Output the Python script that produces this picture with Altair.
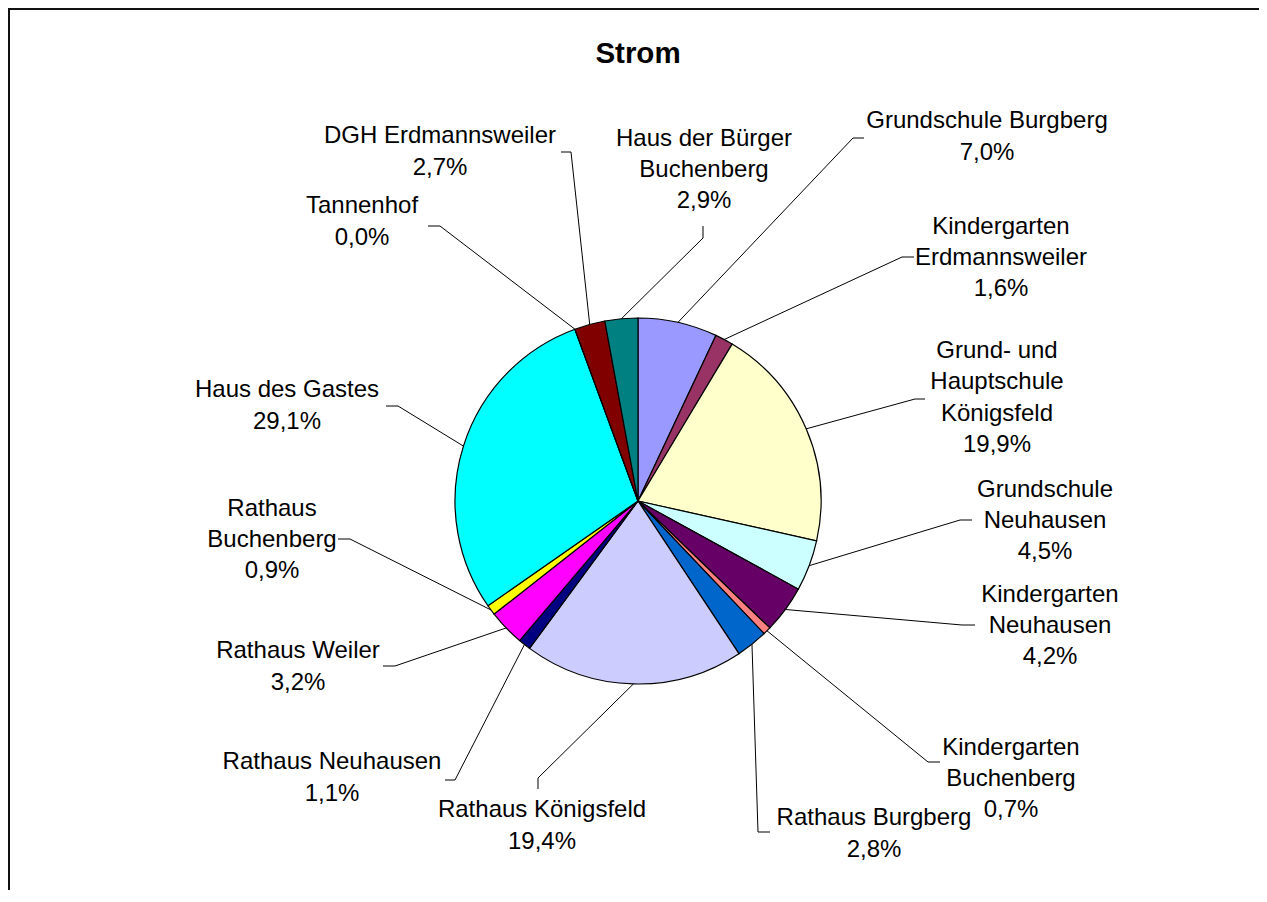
import altair as alt
import pandas as pd
import numpy as np

# ---------------- data ----------------
names = [
    "Grundschule Burgberg", "Kindergarten Erdmannsweiler",
    "Grund- und Hauptschule Königsfeld", "Grundschule Neuhausen",
    "Kindergarten Neuhausen", "Kindergarten Buchenberg", "Rathaus Burgberg",
    "Rathaus Königsfeld", "Rathaus Neuhausen", "Rathaus Weiler",
    "Rathaus Buchenberg", "Haus des Gastes", "Tannenhof",
    "DGH Erdmannsweiler", "Haus der Bürger Buchenberg",
]
values = [7.0, 1.6, 19.9, 4.5, 4.2, 0.7, 2.8, 19.4, 1.1, 3.2, 0.9, 29.1, 0.0, 2.7, 2.9]
label_names = [
    "Grundschule Burgberg", "Kindergarten\nErdmannsweiler",
    "Grund- und\nHauptschule\nKönigsfeld", "Grundschule\nNeuhausen",
    "Kindergarten\nNeuhausen", "Kindergarten\nBuchenberg", "Rathaus Burgberg",
    "Rathaus Königsfeld", "Rathaus Neuhausen", "Rathaus Weiler",
    "Rathaus\nBuchenberg", "Haus des Gastes", "Tannenhof",
    "DGH Erdmannsweiler", "Haus der Bürger\nBuchenberg",
]
colors = [
    "#9999FF", "#993366", "#FFFFCC", "#CCFFFF", "#660066", "#FF8080", "#0066CC",
    "#CCCCFF", "#000080", "#FF00FF", "#FFFF00", "#00FFFF", "#800080",
    "#800000", "#008080",
]
title_text = "Strom"

# ---------------- layout (label placement, px offsets from pie centre) ----------------
# centre of each label block
label_dx = [349, 363, 359, 407, 412, 373, 236, -96, -306, -340, -366, -351, -276, -198, 66]
label_dy = [-364, -243, -103, 20, 125, 278, 333, 325, 277, 166, 39, -95, -279, -349, -331]
elbow_dx = [215, 264, 277, 322, 324, 290, 120, -100, -183, -243, -288, -240, -198, -67, 65]
elbow_dy = [-363, -244, -102, 19, 124, 261, 331, 277, 279, 165, 38, -95, -275, -349, -263]
end_dx = [226, 276, 287, 334, 337, 302, 132, -100, -193, -255, -300, -252, -210, -77, 65]
end_dy = [-363, -244, -102, 19, 124, 261, 331, 288, 279, 165, 38, -95, -275, -349, -275]
title_dy = -438.5

W, H = 1251, 882
CX, CY = 630, 493
R = 183
FONT = "Liberation Sans"
LH = 31.4

xs = alt.Scale(domain=[-CX, W - CX], range=[0, W], zero=False, nice=False)
ys = alt.Scale(domain=[-CY, H - CY], range=[0, H], zero=False, nice=False)

df = pd.DataFrame({"name": names, "value": values, "idx": range(len(names))})


def pct(v):
    return f"{v:.1f}".replace(".", ",") + "%"


texts_full = [ln + "\n" + pct(v) for ln, v in zip(label_names, values)]
# Vega puts the first line at y: shift so the whole block is centred
first_dy = [d - (t.count("\n")) * LH / 2 for d, t in zip(label_dy, texts_full)]
lab = pd.DataFrame({"name": names, "text": texts_full, "dx": label_dx, "dy": first_dy})

# leader lines: slice edge (from values) -> elbow -> label
total = sum(values)
cum = np.cumsum([0] + values[:-1])
mid = [(c + v / 2) / total * 2 * np.pi for c, v in zip(cum, values)]
rows = []
for i, n in enumerate(names):
    rows.append({"name": n, "seq": 0, "px": R * np.sin(mid[i]), "py": -R * np.cos(mid[i])})
    rows.append({"name": n, "seq": 1, "px": elbow_dx[i], "py": elbow_dy[i]})
    rows.append({"name": n, "seq": 2, "px": end_dx[i], "py": end_dy[i]})
lead = pd.DataFrame(rows)

pie = alt.Chart(df).mark_arc(outerRadius=R, stroke="black", strokeWidth=1.2).encode(
    theta=alt.Theta("value:Q", stack=True),
    color=alt.Color("name:N", scale=alt.Scale(domain=names, range=colors), legend=None),
    order=alt.Order("idx:Q"),
    x=alt.XDatum(0, type="quantitative", scale=xs, axis=None),
    y=alt.YDatum(0, type="quantitative", scale=ys, axis=None),
)

lines = alt.Chart(lead).mark_line(color="black", strokeWidth=1).encode(
    x=alt.X("px:Q", scale=xs, axis=None),
    y=alt.Y("py:Q", scale=ys, axis=None),
    detail="name:N",
    order="seq:Q",
)

texts = alt.Chart(lab).mark_text(
    font=FONT, fontSize=24, lineBreak="\n", lineHeight=LH,
    align="center", baseline="middle", color="black",
).encode(
    x=alt.X("dx:Q", scale=xs, axis=None),
    y=alt.Y("dy:Q", scale=ys, axis=None),
    text="text:N",
)

title = alt.Chart(pd.DataFrame({"t": [title_text], "ty": [title_dy]})).mark_text(
    font=FONT, fontSize=29.5, fontWeight="bold", color="black",
    align="center", baseline="alphabetic",
).encode(
    x=alt.XDatum(0, type="quantitative", scale=xs, axis=None),
    y=alt.Y("ty:Q", scale=ys, axis=None),
    text="t:N",
)

frame_left = alt.Chart(df).mark_rule(color="#111111", strokeWidth=2).encode(
    x=alt.value(1), y=alt.value(0), y2=alt.value(H)
)
frame_top = alt.Chart(df).mark_rule(color="#111111", strokeWidth=2).encode(
    y=alt.value(1), x=alt.value(0), x2=alt.value(W)
)

chart = alt.layer(frame_left, frame_top, pie, lines, texts, title).properties(
    width=W, height=H,
    padding=0,
    autosize=alt.AutoSizeParams(type="none"),
).configure_view(stroke=None)

chart.save("out.html", embed_options={"renderer": "svg", "actions": False})
